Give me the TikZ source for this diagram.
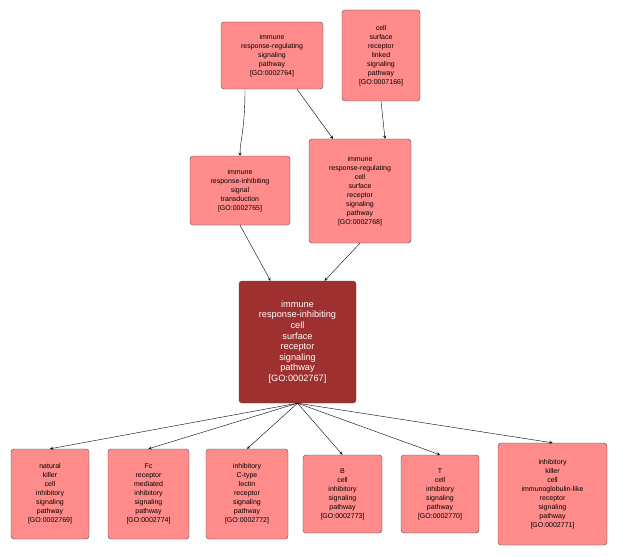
\documentclass[tikz,border=0pt]{standalone}
\usepackage{fontspec}
\setmainfont{Liberation Sans}
\begin{document}
\begin{tikzpicture}[x=1pt,y=-1pt,
 go/.style={draw=black!70,fill={rgb,255:red,255;green,140;blue,138},rounded corners=3pt,align=center,font=\fontsize{7}{9}\selectfont,inner sep=1pt},
 gomain/.style={draw=black!70,fill={rgb,255:red,158;green,48;blue,48},text=white,rounded corners=3pt,align=center,font=\fontsize{9.2}{10.6}\selectfont,inner sep=1pt},
 arr/.style={->,>=stealth,black}]
\useasboundingbox (0,0) rectangle (617,556);
\fill[white] (0,0) rectangle (617,556);
\node[go,minimum width=102,minimum height=67] (A) at (272,55.5) {immune\\response-regulating\\signaling\\pathway\\{[GO:0002764]}};
\node[go,minimum width=78,minimum height=91] (B) at (381,55.5) {cell\\surface\\receptor\\linked\\signaling\\pathway\\{[GO:0007166]}};
\node[go,minimum width=100,minimum height=69] (C) at (240,190.5) {immune\\response-inhibiting\\signal\\transduction\\{[GO:0002765]}};
\node[go,minimum width=102,minimum height=104] (D) at (360,191) {immune\\response-regulating\\cell\\surface\\receptor\\signaling\\pathway\\{[GO:0002768]}};
\node[gomain,minimum width=117,minimum height=122] (E) at (297.5,342) {immune\\response-inhibiting\\cell\\surface\\receptor\\signaling\\pathway\\{[GO:0002767]}};
\node[go,minimum width=78,minimum height=90] (F1) at (50,494) {natural\\killer\\cell\\inhibitory\\signaling\\pathway\\{[GO:0002769]}};
\node[go,minimum width=81,minimum height=90] (F2) at (148.5,494) {Fc\\receptor\\mediated\\inhibitory\\signaling\\pathway\\{[GO:0002774]}};
\node[go,minimum width=82,minimum height=90] (F3) at (247,494) {inhibitory\\C-type\\lectin\\receptor\\signaling\\pathway\\{[GO:0002772]}};
\node[go,minimum width=79,minimum height=78] (F4) at (342.5,494) {B\\cell\\inhibitory\\signaling\\pathway\\{[GO:0002773]}};
\node[go,minimum width=78,minimum height=78] (F5) at (440,494) {T\\cell\\inhibitory\\signaling\\pathway\\{[GO:0002770]}};
\node[go,minimum width=109,minimum height=102] (F6) at (552.5,494) {inhibitory\\killer\\cell\\immunoglobulin-like\\receptor\\signaling\\pathway\\{[GO:0002771]}};
\draw[arr] ([xshift=-27]A.south) .. controls +(0,40) and +(0,-15) .. (C.north);
\draw[arr] ([xshift=25]A.south) -- ([xshift=-27]D.north);
\draw[arr] (B.south) -- ([xshift=25]D.north);
\draw[arr] (C.south) -- ([xshift=-27]E.north);
\draw[arr] (D.south) -- ([xshift=27]E.north);
\foreach \n in {F1,F2,F3,F4,F5,F6} \draw[arr] (E.south) -- (\n.north);
\end{tikzpicture}
\end{document}
